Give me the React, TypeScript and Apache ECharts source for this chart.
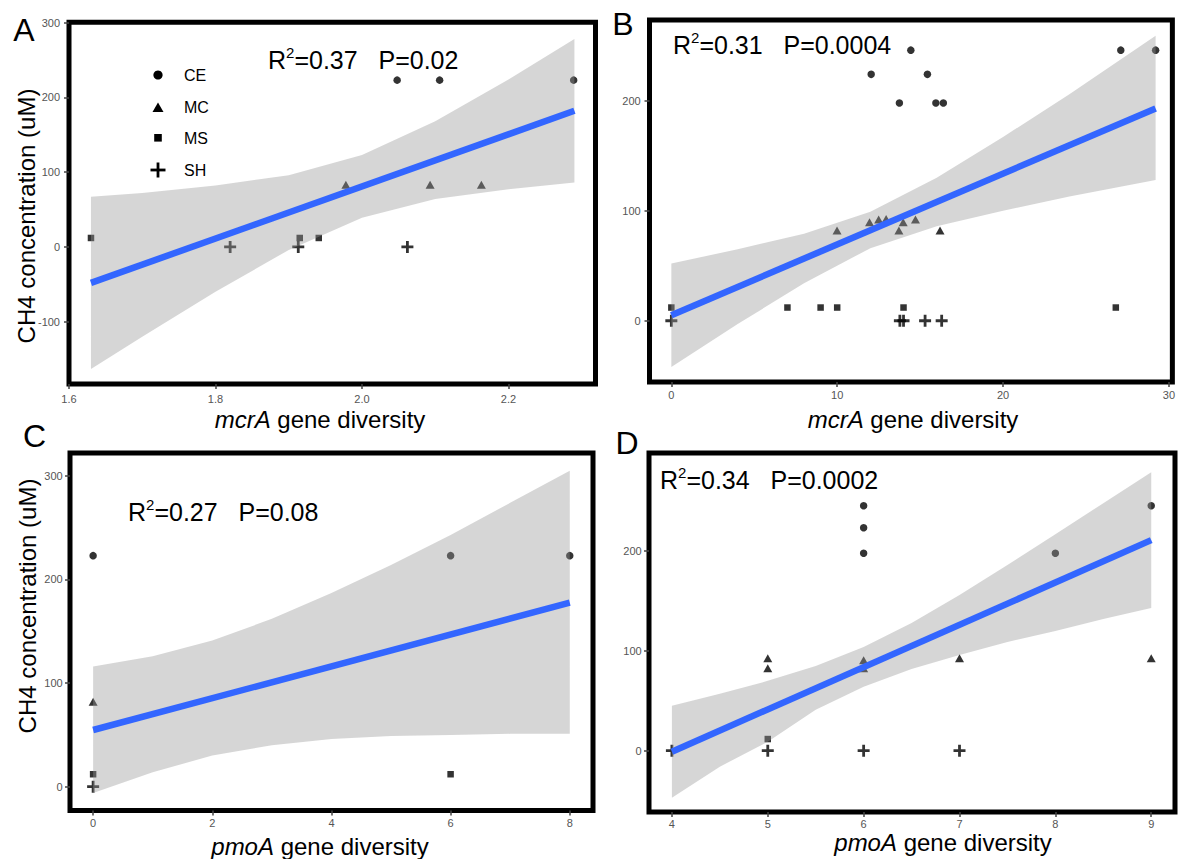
import React, { useEffect, useRef } from 'react';
import * as echarts from 'echarts';

const FONT = '"Liberation Sans", Arial, Helvetica, sans-serif';

// ---------- Panel A : mcrA diversity (small range) ----------
const A_CE = [[2.048, 223], [2.106, 223], [2.289, 223]];
const A_MC = [[1.978, 83], [2.093, 83], [2.163, 83]];
const A_MS = [[1.63, 12], [1.915, 12], [1.941, 12]];
const A_SH = [[1.82, 0], [1.913, 0], [2.062, 0]];
const A_FIT = [[1.63, -48], [2.29, 182]];
const A_BAND_X = [1.63, 1.7, 1.8, 1.9, 2.0, 2.1, 2.2, 2.29];
const A_BAND_LO = [-163, -120, -60, -4, 39, 64, 77, 86];
const A_BAND_HI = [67, 72, 82, 96, 123, 168, 224, 278];
const A_XTICKS = [1.6, 1.8, 2.0, 2.2];
const A_YTICKS = [-100, 0, 100, 200, 300];

// ---------- Panel B : mcrA diversity ----------
const B_CE = [[14.44, 246], [12.05, 224], [15.44, 224], [13.75, 198], [15.95, 198], [16.4, 198], [27.1, 246], [29.2, 246]];
const B_MC = [[9.99, 82], [11.95, 89.5], [12.5, 92], [12.95, 92.5], [13.72, 82], [13.98, 89.5], [14.72, 92], [16.2, 82]];
const B_MS = [[0, 12], [7, 12], [9, 12], [10, 12], [14, 12], [26.8, 12]];
const B_SH = [[0, 0], [13.78, 0], [14.0, 0], [15.3, 0], [16.3, 0]];
const B_FIT = [[0, 5], [29.2, 193]];
const B_BAND_X = [0, 4, 8, 12, 16, 20, 24, 29.2];
const B_BAND_LO = [-42, -3, 34, 66, 86, 100, 113, 128];
const B_BAND_HI = [52, 65, 79, 99, 130, 167, 206, 259];
const B_XTICKS = [0, 10, 20, 30];
const B_YTICKS = [0, 100, 200];

// ---------- Panel C : pmoA diversity ----------
const C_CE = [[0, 223], [6, 223], [8, 223]];
const C_MC = [[0, 82]];
const C_MS = [[0, 12], [6, 12]];
const C_SH = [[0, 0]];
const C_FIT = [[0, 54.7], [8, 177.6]];
const C_BAND_X = [0, 1, 2, 3, 4, 5, 6, 7, 8];
const C_BAND_LO = [-6, 14, 30, 40, 46, 49, 50, 51, 51];
const C_BAND_HI = [116, 126, 141, 162, 187, 214, 243, 274, 305];
const C_XTICKS = [0, 2, 4, 6, 8];
const C_YTICKS = [0, 100, 200, 300];

// ---------- Panel D : pmoA diversity ----------
const D_CE = [[6, 245.5], [6, 223.4], [6, 197.8], [8, 197.8], [9, 245.5]];
const D_MC = [[5, 92.6], [5, 82.6], [6, 90.6], [6, 82.6], [7, 92.6], [9, 92.6]];
const D_MS = [[5, 11.7]];
const D_SH = [[4, 0], [5, 0], [6, 0], [7, 0]];
const D_FIT = [[4, -1], [9, 211]];
const D_BAND_X = [4, 4.5, 5, 5.5, 6, 6.5, 7, 7.5, 8, 8.5, 9];
const D_BAND_LO = [-47, -16, 9, 41, 64, 82, 96, 109, 120, 132, 143];
const D_BAND_HI = [45, 57, 70, 85, 104, 128, 156, 186, 217, 248, 279];
const D_XTICKS = [4, 5, 6, 7, 8, 9];
const D_YTICKS = [0, 100, 200];

const GROUPS = ['CE', 'MC', 'MS', 'SH'];
const STATS = [
  { r2: '0.37', p: '0.02' },
  { r2: '0.31', p: '0.0004' },
  { r2: '0.27', p: '0.08' },
  { r2: '0.34', p: '0.0002' },
];

const PLUS = 'path://M0,4.6h12v2.8h-12z M4.6,0h2.8v12h-2.8z';
const SYMBOLS: any = {
  CE: { symbol: 'circle', size: 7.5 },
  MC: { symbol: 'triangle', size: [9, 8] },
  MS: { symbol: 'rect', size: 6.5 },
  SH: { symbol: PLUS, size: 12 },
};
const BAND_FILL = 'rgba(153,153,153,0.4)';
const LINE_COLOR = '#3366FF';

const PANELS = [
  { pts: { CE: A_CE, MC: A_MC, MS: A_MS, SH: A_SH }, fit: A_FIT, bx: A_BAND_X, lo: A_BAND_LO, hi: A_BAND_HI, xt: A_XTICKS, yt: A_YTICKS,
    grid: { left: 69, top: 22.3, width: 526.5, height: 361.7 }, xr: [1.6, 2.3188], yr: [-183.2, 300.3], xm: 9, ym: 9, fmt: (v: number) => v.toFixed(1) },
  { pts: { CE: B_CE, MC: B_MC, MS: B_MS, SH: B_SH }, fit: B_FIT, bx: B_BAND_X, lo: B_BAND_LO, hi: B_BAND_HI, xt: B_XTICKS, yt: B_YTICKS,
    grid: { left: 649.5, top: 20, width: 526.5, height: 362 }, xr: [-1.317, 30.21], yr: [-55.7, 273.4], xm: 7.5, ym: 8.8, fmt: (v: number) => String(v) },
  { pts: { CE: C_CE, MC: C_MC, MS: C_MS, SH: C_SH }, fit: C_FIT, bx: C_BAND_X, lo: C_BAND_LO, hi: C_BAND_HI, xt: C_XTICKS, yt: C_YTICKS,
    grid: { left: 70, top: 453, width: 523, height: 357.5 }, xr: [-0.388, 8.39], yr: [-23, 322.1], xm: 6.5, ym: 7.3, fmt: (v: number) => String(v) },
  { pts: { CE: D_CE, MC: D_MC, MS: D_MS, SH: D_SH }, fit: D_FIT, bx: D_BAND_X, lo: D_BAND_LO, hi: D_BAND_HI, xt: D_XTICKS, yt: D_YTICKS,
    grid: { left: 649, top: 453, width: 526, height: 359 }, xr: [3.761, 9.248], yr: [-61.4, 298.3], xm: 6, ym: 7.3, fmt: (v: number) => String(v) },
];

function buildOption() {
  const grid: any[] = [];
  const xAxis: any[] = [];
  const yAxis: any[] = [];
  const series: any[] = [];
  const tickStyle = { show: true, inside: false, length: 5, lineStyle: { color: '#444', width: 1.5 } };
  const labelStyle = { fontSize: 11, color: '#555', fontFamily: FONT };

  PANELS.forEach((P, i) => {
    grid.push({ ...P.grid, show: true, borderColor: '#000', borderWidth: 5, backgroundColor: '#fff', containLabel: false });
    xAxis.push({
      type: 'value', gridIndex: i, min: P.xr[0], max: P.xr[1], position: 'bottom',
      axisLine: { show: false, onZero: false }, splitLine: { show: false },
      axisTick: { ...tickStyle, customValues: P.xt },
      axisLabel: { ...labelStyle, customValues: P.xt, margin: P.xm, formatter: P.fmt },
    });
    yAxis.push({
      type: 'value', gridIndex: i, min: P.yr[0], max: P.yr[1], position: 'left',
      axisLine: { show: false, onZero: false }, splitLine: { show: false },
      axisTick: { ...tickStyle, customValues: P.yt },
      axisLabel: { ...labelStyle, customValues: P.yt, margin: P.ym, formatter: (v: number) => String(v) },
    });
    GROUPS.forEach((g) => {
      series.push({
        type: 'scatter', name: g, xAxisIndex: i, yAxisIndex: i, z: 2,
        symbol: SYMBOLS[g].symbol, symbolSize: SYMBOLS[g].size,
        itemStyle: { color: '#000' },
        data: (P.pts as any)[g],
      });
    });
    const bandData = P.bx.map((x, k) => [x, P.lo[k], P.hi[k]]);
    series.push({
      type: 'custom', name: 'band' + i, xAxisIndex: i, yAxisIndex: i, z: 3,
      encode: { x: 0, y: [1, 2] },
      data: bandData,
      renderItem: (params: any, api: any) => {
        if (params.dataIndex !== 0) return null;
        const pts: number[][] = [];
        bandData.forEach((d) => pts.push(api.coord([d[0], d[2]])));
        for (let k = bandData.length - 1; k >= 0; k--) pts.push(api.coord([bandData[k][0], bandData[k][1]]));
        return { type: 'polygon', shape: { points: pts }, style: { fill: BAND_FILL, stroke: 'none' } };
      },
    });
    series.push({
      type: 'line', name: 'fit' + i, xAxisIndex: i, yAxisIndex: i, z: 4,
      data: P.fit, symbol: 'none', showSymbol: false,
      lineStyle: { color: LINE_COLOR, width: 6.5 },
    });
  });

  const txt = (x: number, y: number, text: string, size: number, extra: any = {}) => ({
    type: 'text', x, y, silent: true, rotation: extra.rotation || 0, z: 10,
    style: {
      text, fontSize: size, fontFamily: FONT, fill: '#000',
      align: extra.align || 'center', textAlign: extra.align || 'center',
      verticalAlign: 'middle', textVerticalAlign: 'middle',
      lineHeight: extra.lineHeight,
      rich: extra.rich,
    },
  });

  const r2Rich = {
    a: { fontSize: 25, fontFamily: FONT, fill: '#000', lineHeight: 30, verticalAlign: 'middle' },
    s: { fontSize: 15, fontFamily: FONT, fill: '#000', lineHeight: 15, verticalAlign: 'top' },
  };
  const itRich = { i: { fontSize: 24, fontFamily: FONT, fill: '#000', fontStyle: 'italic', lineHeight: 22 } };
  const r2Pos = [[268, 60], [673, 45], [128, 512], [660, 480]];
  const letters = [['A', 24, 30], ['B', 623, 24], ['C', 34.5, 436], ['D', 627, 442.5]];

  const graphic: any[] = [];
  letters.forEach(([t, x, y]) => graphic.push(txt(x as number, y as number, t as string, 32)));
  STATS.forEach((s, i) => graphic.push(txt(r2Pos[i][0], r2Pos[i][1], `{a|R}{s|2}{a|=${s.r2}   P=${s.p}}`, 25, { align: 'left', rich: r2Rich })));
  graphic.push(txt(320, 419, '{i|mcrA} gene diversity', 24, { rich: itRich, lineHeight: 22 }));
  graphic.push(txt(913, 419, '{i|mcrA} gene diversity', 24, { rich: itRich, lineHeight: 22 }));
  graphic.push(txt(320, 846, '{i|pmoA} gene diversity', 24, { rich: itRich, lineHeight: 22 }));
  graphic.push(txt(943, 842, '{i|pmoA} gene diversity', 24, { rich: itRich, lineHeight: 22 }));
  graphic.push(txt(26, 216, 'CH4 concentration (uM)', 24, { rotation: Math.PI / 2 }));
  graphic.push(txt(27, 606, 'CH4 concentration (uM)', 24, { rotation: Math.PI / 2 }));

  // legend (panel A)
  const lx = 158;
  graphic.push({ type: 'circle', shape: { cx: lx, cy: 75, r: 4.6 }, style: { fill: '#000' }, z: 10 });
  graphic.push({ type: 'polygon', shape: { points: [[lx - 5.5, 112], [lx + 5.5, 112], [lx, 102.5]] }, style: { fill: '#000' }, z: 10 });
  graphic.push({ type: 'rect', shape: { x: lx - 3.8, y: 134, width: 7.6, height: 7.6 }, style: { fill: '#000' }, z: 10 });
  graphic.push({ type: 'rect', shape: { x: lx - 7.5, y: 168.6, width: 15, height: 2.8 }, style: { fill: '#000' }, z: 10 });
  graphic.push({ type: 'rect', shape: { x: lx - 1.4, y: 162.5, width: 2.8, height: 15 }, style: { fill: '#000' }, z: 10 });
  const legY = [75, 107.5, 138, 170];
  GROUPS.forEach((g, k) => graphic.push(txt(184, legY[k], g, 16, { align: 'left' })));

  return {
    animation: false,
    backgroundColor: '#fff',
    grid, xAxis, yAxis, series, graphic,
  };
}

export default function App() {
  const ref = useRef<HTMLDivElement>(null);
  useEffect(() => {
    document.body.style.margin = '0';
    const chart = echarts.init(ref.current as HTMLDivElement, null, { renderer: 'svg' });
    chart.setOption(buildOption() as any);
    return () => chart.dispose();
  }, []);
  return <div ref={ref} style={{ position: 'fixed', left: 0, top: 0, width: 1178, height: 859, background: '#fff' }} />;
}
